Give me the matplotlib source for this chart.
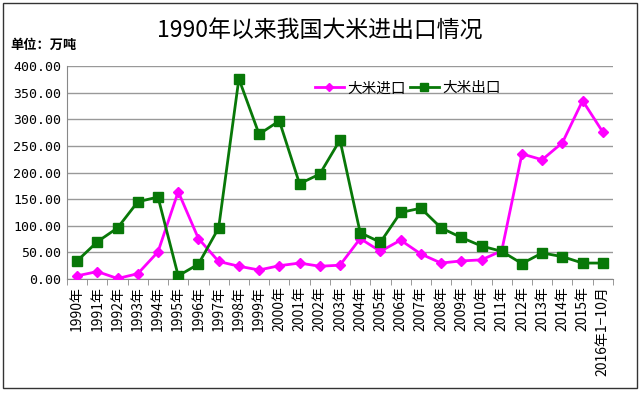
import matplotlib
matplotlib.use("Agg")
import matplotlib.pyplot as plt
from matplotlib.patches import Rectangle
import numpy as np

plt.rcParams['font.family'] = ['Noto Sans CJK SC', 'DejaVu Sans']

years = [f"{y}年" for y in range(1990, 2016)] + ["2016年1−10月"]
imports = [6, 14, 1, 10, 51, 164, 76, 33, 24, 17, 25, 30, 24, 26, 76, 52, 73, 47,
           30, 34, 36, 53, 235, 224, 256, 335, 276]
exports = [34, 70, 96, 145, 154, 6, 28, 96, 376, 272, 297, 179, 197, 261, 87, 69,
           125, 133, 96, 78, 62, 52, 29, 49, 42, 30, 30]
yticks = [0, 50, 100, 150, 200, 250, 300, 350, 400]

fig = plt.figure(figsize=(6.4, 3.93), dpi=100)
ax = fig.add_axes([0.1047, 0.290, 0.853, 0.542])

x = np.arange(len(years))
ax.plot(x, imports, color='#FF00FF', marker='D', markersize=5, linewidth=2, label='大米进口', zorder=3)
ax.plot(x, exports, color='#087808', marker='s', markersize=7, linewidth=2, label='大米出口', zorder=3)

ax.set_xlim(-0.5, len(years) - 0.5)
ax.set_ylim(0, 400)
ax.set_yticks(yticks)
ax.set_yticklabels([f"{v:.2f}" for v in yticks], fontsize=9.5, family='DejaVu Sans Mono')
ax.yaxis.grid(True, color='#999999', linewidth=1)
ax.set_axisbelow(True)
ax.tick_params(axis='y', length=0, pad=4)

ax.set_xticks(x)
ax.set_xticklabels(years, rotation=90, fontsize=10)
ax.set_xticks(np.arange(len(years) + 1) - 0.5, minor=True)
ax.tick_params(axis='x', which='major', length=0, pad=5)
ax.tick_params(axis='x', which='minor', length=4, color='#888888')

for s in ['top', 'right']:
    ax.spines[s].set_visible(False)
ax.spines['left'].set_color('#888888')
ax.spines['bottom'].set_color('#888888')

ax.legend(loc='upper left', bbox_to_anchor=(0.43, 0.99), ncol=2, frameon=False,
          fontsize=10.5, handlelength=2.0, columnspacing=0.3, handletextpad=0.2,
          markerscale=0.75)

fig.text(0.5, 0.92, '1990年以来我国大米进出口情况', ha='center', va='center', fontsize=16.5)
fig.text(0.016, 0.885, '单位：万吨', ha='left', va='center', fontsize=9.5, fontweight='bold')

fig.patches.append(Rectangle((0.005, 0.012), 0.99, 0.98, transform=fig.transFigure,
                             fill=False, edgecolor='#333333', linewidth=1))

fig.savefig('out.png', dpi=100)
